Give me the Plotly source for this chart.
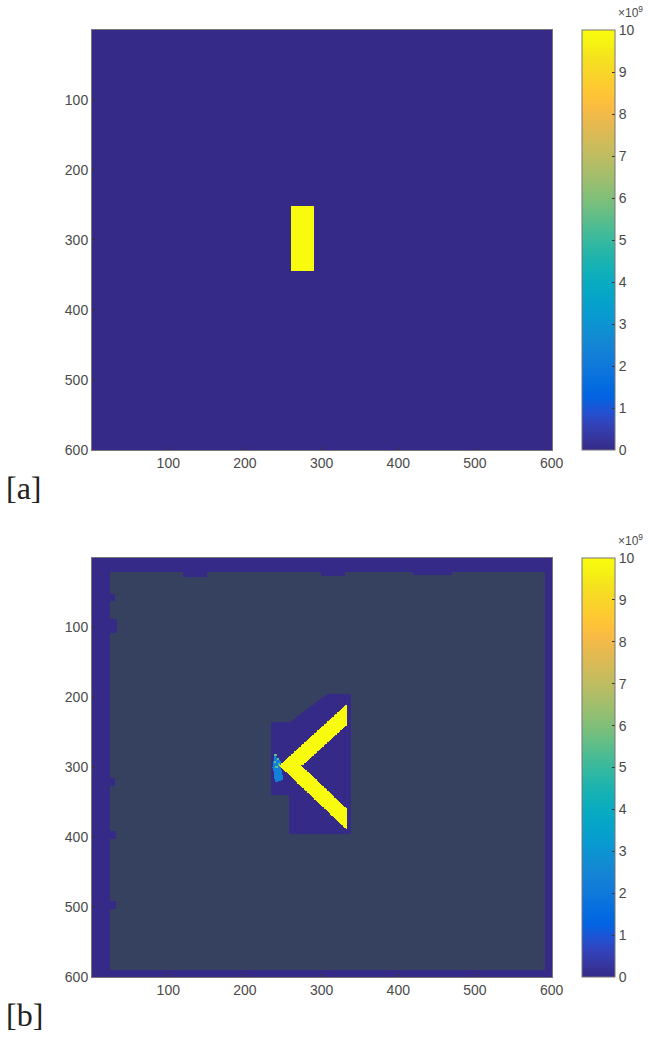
import numpy as np
import plotly.graph_objects as go

# ---------------- data ----------------
N = 600                      # image size (rows, cols)
ZMIN, ZMAX = 0.0, 1e10       # colour range
axis_ticks = [100, 200, 300, 400, 500, 600]
cbar_tickvals = [i * 1e9 for i in range(11)]
cbar_ticktext = [str(i) for i in range(11)]

# panel [a] : uniform background with one bright block
a_background = 0.0
a_block_rows = [253, 344]
a_block_cols = [261, 289]
a_block_value = 1e10

# panel [b]
b_frame_value = 0.0
b_frame_top = 20
b_frame_bottom = 591
b_frame_left = 24
b_frame_right = 592
# (row0, row1, col0, col1) irregular bumps of the frame
b_frame_bumps = [(88, 108, 1, 33), (52, 62, 1, 30), (316, 326, 1, 30),
                 (392, 402, 1, 31), (492, 502, 1, 31),
                 (1, 27, 120, 150), (1, 26, 300, 330), (1, 25, 420, 470)]
b_halo_value = 0.0
b_halo_poly = [(306, 196), (339, 196), (339, 396), (258, 396), (258, 341),
               (234, 341), (234, 236), (258, 236), (271, 225)]
b_patch_value = 2.3e9
b_patch_poly = [(238, 282), (246, 290), (250, 318), (240, 322), (236, 300)]
b_dots_value = 5.5e9
b_dots = [(240, 282), (243, 288), (239, 292), (244, 296), (241, 300)]
b_chevron_value = 1e10
b_chevron_poly = [(245, 298), (333, 210), (333, 240), (274, 298),
                  (333, 360), (333, 390)]

# MATLAB parula (subset of the 64-entry map)
parula = [
    (0.2081, 0.1663, 0.5292), (0.2123, 0.2138, 0.6270), (0.1959, 0.2645, 0.7279),
    (0.1253, 0.3242, 0.8303), (0.0117, 0.3875, 0.8820), (0.0165, 0.4266, 0.8786),
    (0.0498, 0.4586, 0.8641), (0.0723, 0.4887, 0.8467), (0.0793, 0.5200, 0.8312),
    (0.0641, 0.5570, 0.8240), (0.0343, 0.5966, 0.8199), (0.0239, 0.6287, 0.8038),
    (0.0228, 0.6535, 0.7768), (0.0384, 0.6743, 0.7436), (0.0843, 0.6928, 0.7062),
    (0.1453, 0.7098, 0.6646), (0.2178, 0.7250, 0.6193), (0.3022, 0.7376, 0.5712),
    (0.3953, 0.7459, 0.5244), (0.4871, 0.7491, 0.4840), (0.5709, 0.7485, 0.4494),
    (0.6473, 0.7456, 0.4188), (0.7184, 0.7411, 0.3905), (0.7858, 0.7356, 0.3633),
    (0.8507, 0.7299, 0.3360), (0.9139, 0.7258, 0.3063), (0.9739, 0.7314, 0.2666),
    (0.9990, 0.7653, 0.2164), (0.9880, 0.8066, 0.1794), (0.9697, 0.8481, 0.1475),
    (0.9589, 0.8949, 0.1132), (0.9661, 0.9514, 0.0755), (0.9763, 0.9831, 0.0538),
]
colorscale = [[i / (len(parula) - 1),
               "rgb(%d,%d,%d)" % tuple(round(c * 255) for c in col)]
              for i, col in enumerate(parula)]

# ---------------- build images ----------------
cols = np.arange(1, N + 1)
rows = np.arange(1, N + 1)
C, R = np.meshgrid(cols, rows)


def poly_mask(poly):
    xs = np.array([p[0] for p in poly], float)
    ys = np.array([p[1] for p in poly], float)
    inside = np.zeros(C.shape, bool)
    j = len(poly) - 1
    for i in range(len(poly)):
        xi, yi, xj, yj = xs[i], ys[i], xs[j], ys[j]
        cond = ((yi > R) != (yj > R))
        with np.errstate(divide="ignore", invalid="ignore"):
            xint = (xj - xi) * (R - yi) / (yj - yi) + xi
        inside ^= cond & (C < xint)
        j = i
    return inside


za = np.full((N, N), a_background, dtype=np.float32)
za[(R >= a_block_rows[0]) & (R <= a_block_rows[1]) &
   (C >= a_block_cols[0]) & (C <= a_block_cols[1])] = a_block_value

zb = np.full((N, N), np.nan, dtype=np.float32)
frame = (R <= b_frame_top) | (R >= b_frame_bottom) | (C <= b_frame_left) | (C >= b_frame_right)
for r0, r1, c0, c1 in b_frame_bumps:
    frame |= (R >= r0) & (R <= r1) & (C >= c0) & (C <= c1)
zb[frame] = b_frame_value
zb[poly_mask(b_halo_poly)] = b_halo_value
zb[poly_mask(b_patch_poly)] = b_patch_value
for c, r in b_dots:
    zb[r - 2:r + 1, c - 2:c + 1] = b_dots_value
zb[poly_mask(b_chevron_poly)] = b_chevron_value

# ---------------- figure ----------------
W, H = 664, 1043
TXT = "#4a4a4a"
FONT = "Liberation Sans, Arial, sans-serif"

panels = [  # (z, top px, bottom px, label)
    (za, 30, 450, "[a]"),
    (zb, 558, 977, "[b]"),
]
left_px, right_px = 92, 552
cb_left, cb_w = 582, 33

fig = go.Figure()
for k, (z, top, bot, lab) in enumerate(panels):
    sfx = "" if k == 0 else str(k + 1)
    fig.add_trace(go.Heatmap(
        z=z, x0=1, dx=1, y0=1, dy=1,
        zmin=ZMIN, zmax=ZMAX, colorscale=colorscale,
        xaxis="x" + sfx, yaxis="y" + sfx, hoverongaps=False,
        colorbar=dict(
            x=cb_left / W, xanchor="left", xpad=0,
            y=1 - top / H, yanchor="top", ypad=0,
            len=(bot - top) / H, lenmode="fraction",
            thickness=cb_w, thicknessmode="pixels",
            outlinewidth=1, outlinecolor="#777",
            tickvals=cbar_tickvals, ticktext=cbar_ticktext,
            ticks="inside", ticklen=3, tickcolor="#333",
            tickfont=dict(family=FONT, size=14, color=TXT),
        ),
    ))
    dom_y = [1 - bot / H, 1 - top / H]
    common = dict(tickvals=axis_ticks, ticks="inside", ticklen=3,
                  tickcolor="#333", showgrid=False, zeroline=False,
                  showline=True, mirror=True, linecolor="#777", automargin=False,
                  tickfont=dict(family=FONT, size=14, color=TXT))
    fig.update_layout(**{
        "xaxis" + sfx: dict(domain=[left_px / W, right_px / W], range=[0.5, 600.5],
                            anchor="y" + sfx, **common),
        "yaxis" + sfx: dict(domain=dom_y, range=[600.5, 0.5],
                            anchor="x" + sfx, **common),
    })
    fig.add_annotation(text="\u00d710<sup>9</sup>", xref="paper", yref="paper",
                       x=616 / W, y=1 - (top - 8) / H, xanchor="left", yanchor="bottom",
                       showarrow=False, font=dict(family=FONT, size=12, color=TXT))
    fig.add_annotation(text=lab, xref="paper", yref="paper",
                       x=4 / W, y=1 - (bot + 38) / H, xanchor="left", yanchor="middle",
                       showarrow=False,
                       font=dict(family="Liberation Serif, DejaVu Serif, serif",
                                 size=32, color="#222"))

fig.update_layout(width=W, height=H,
                  margin=dict(l=0, r=0, t=0, b=0, autoexpand=False),
                  paper_bgcolor="white", plot_bgcolor="#36405f",
                  showlegend=False)
fig.write_html("out.html", config={"responsive": False},
               post_script="document.body.style.margin='0';")
